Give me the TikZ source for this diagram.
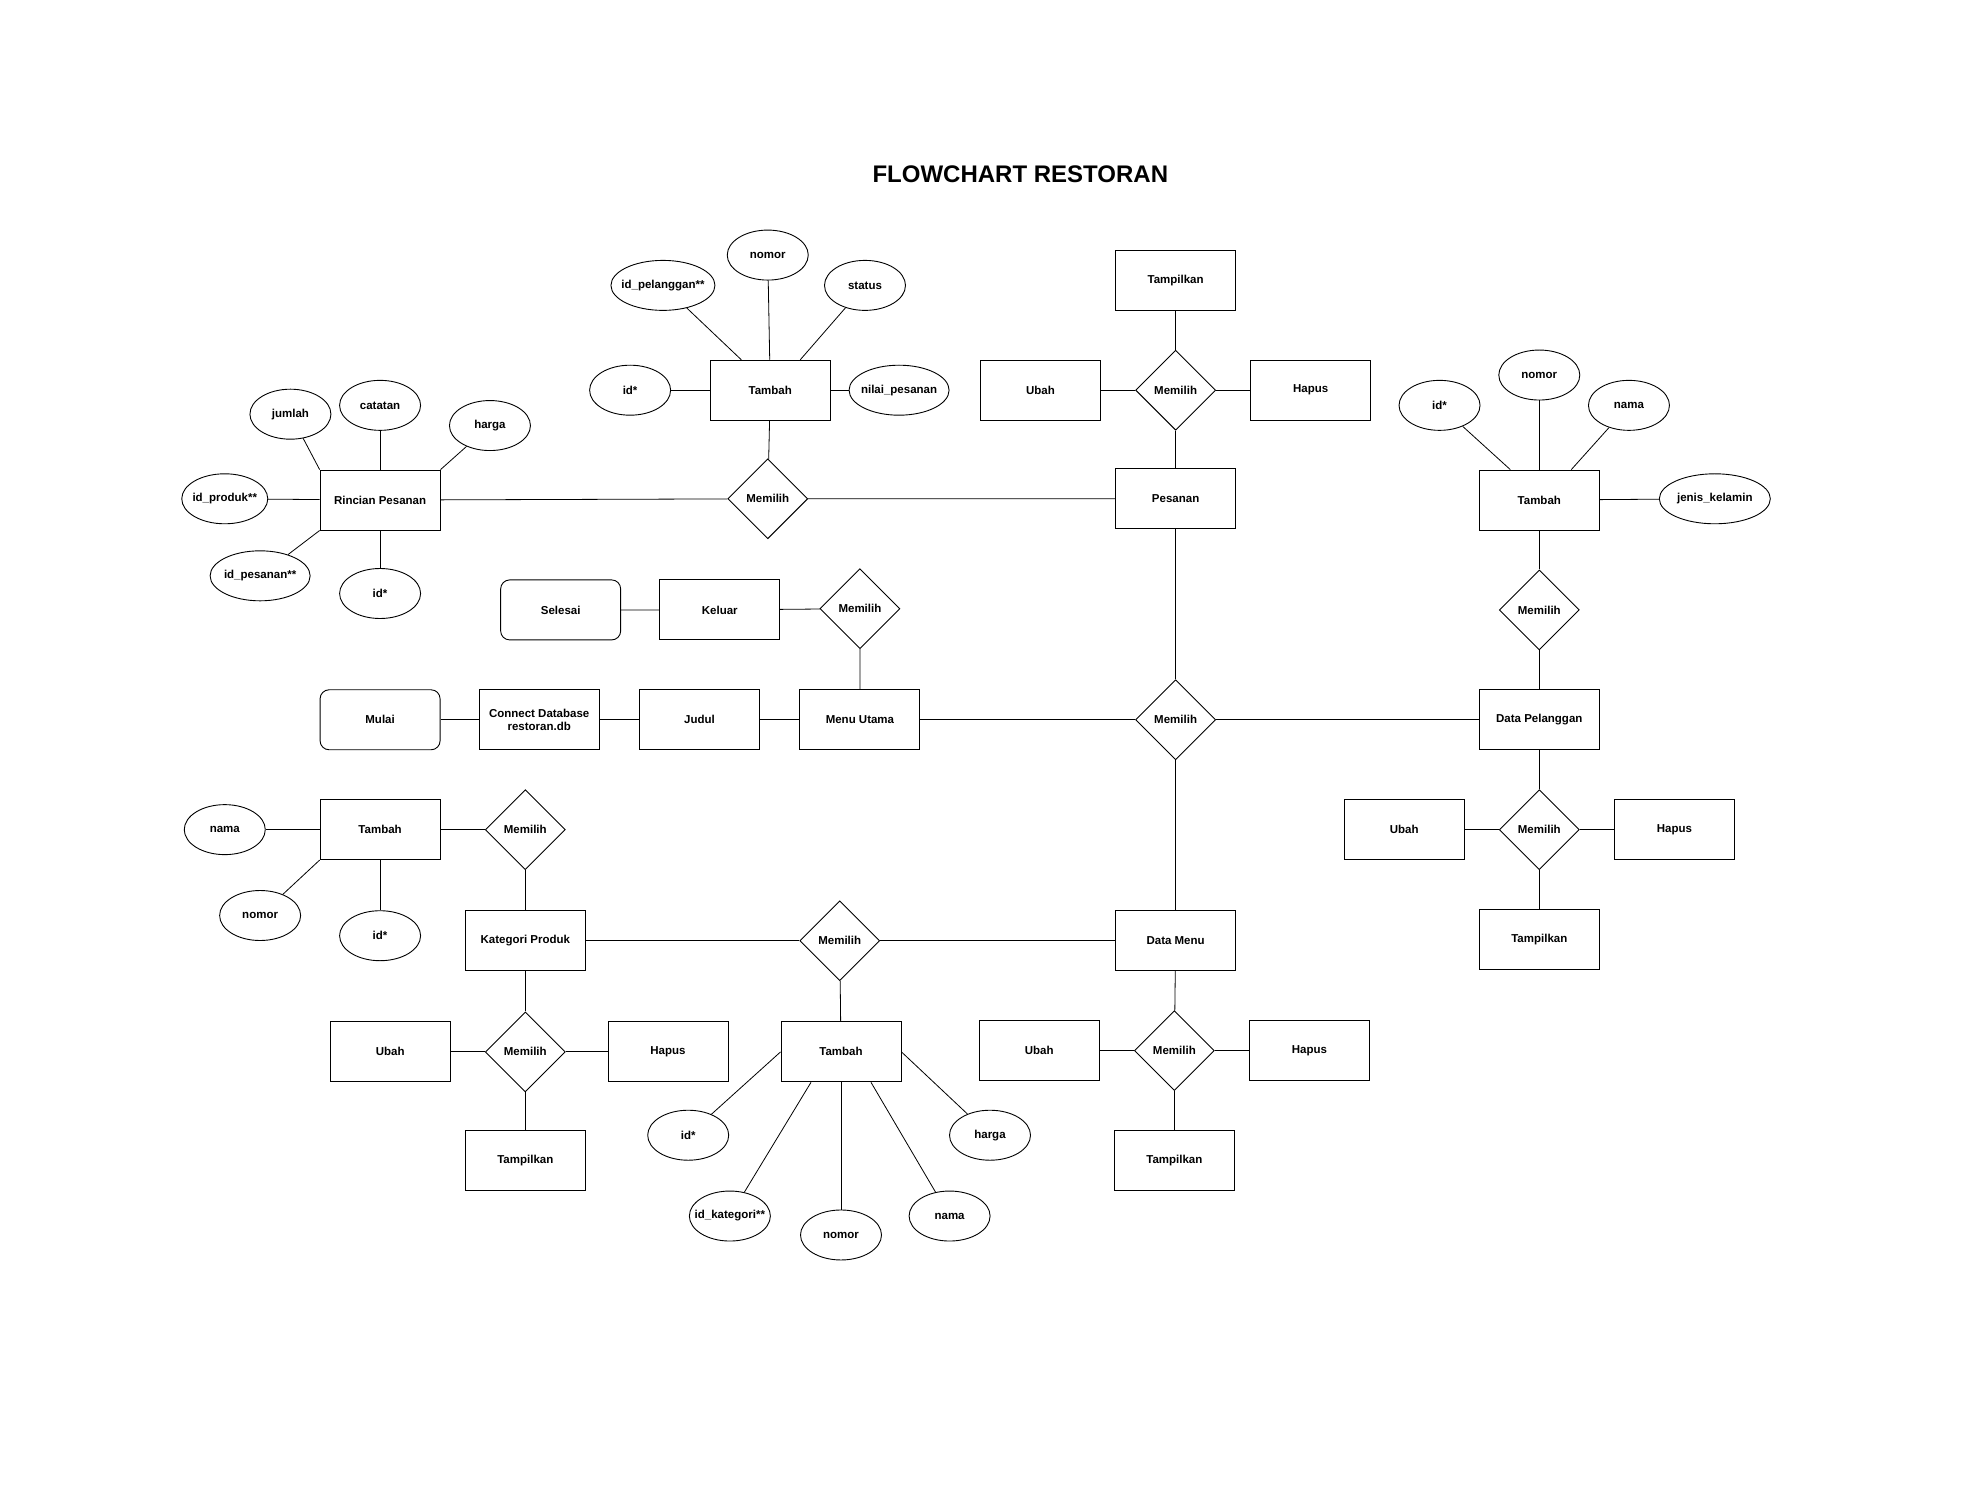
\documentclass[tikz,border=0pt]{standalone}
\usepackage{fontspec}
\setmainfont{Liberation Sans}
\usetikzlibrary{shapes.geometric}
\newcommand{\hurufdiagram}{\fontsize{11.5}{13.5}\selectfont\bfseries}

\begin{document}
\begin{tikzpicture}[x=1.2628pt,y=-1.2628pt,
  kotak/.style={draw=black,line width=0.9pt,minimum width=120pt,minimum height=60pt,
    inner sep=2pt,align=center,font=\hurufdiagram},
  ujung/.style={kotak,rounded corners=9pt},
  atribut/.style={draw=black,ellipse,line width=0.9pt,minimum width=81pt,minimum height=50pt,
    inner xsep=-20pt,inner ysep=0pt,font=\hurufdiagram},
  pilihan/.style={draw=black,diamond,line width=0.9pt,minimum width=80pt,minimum height=80pt,
    inner sep=0pt,font=\hurufdiagram},
  garis/.style={draw=black,line width=0.8pt}]
  \useasboundingbox (0,0) rectangle (1568,1196);
  \node[font=\fontsize{24}{28}\selectfont\bfseries] (judulgambar) at (808,138) {FLOWCHART RESTORAN};

  % Alur utama: mulai sampai menu utama, lalu keluar ke selesai.
  \node[ujung] (mulai) at (301,570) {Mulai};
  \node[kotak] (koneksi) at (427,570) {Connect Database\\restoran.db};
  \node[kotak] (judul) at (554,570) {Judul};
  \node[kotak] (menuutama) at (681,570) {Menu Utama};
  \node[pilihan] (pilihkeluar) at (681,482) {Memilih};
  \node[kotak] (keluar) at (570,483) {Keluar};
  \node[ujung] (selesai) at (444,483) {Selesai};
  \draw[garis] (mulai) -- (koneksi) -- (judul) -- (menuutama);
  \draw[garis] (menuutama) -- (pilihkeluar) -- (keluar) -- (selesai);

  % Pilihan menu di tengah.
  \node[pilihan] (pilihutama) at (931,570) {Memilih};
  \node[kotak] (pesanan) at (931,395) {Pesanan};
  \node[kotak] (datapelanggan) at (1219,570) {Data Pelanggan};
  \node[kotak] (datamenu) at (931,745) {Data Menu};
  \draw[garis] (menuutama) -- (pilihutama) -- (datapelanggan);
  \draw[garis] (pesanan) -- (pilihutama) -- (datamenu);

  % Empat kelompok Ubah / Hapus / Tampilkan di sekitar belah ketupat.
  \foreach \grup/\x/\y/\xh/\dy in {Pes/931/309/107/-87,Pl/1219/657/107/87,
      M/930/832/107/87,K/416/833/113/86}{
    \node[pilihan] (pilih\grup) at (\x,\y) {Memilih};
    \node[kotak] (ubah\grup) at (\x-107,\y) {Ubah};
    \node[kotak] (hapus\grup) at (\x+\xh,\y) {Hapus};
    \node[kotak] (tampil\grup) at (\x,\y+\dy) {Tampilkan};
    \draw[garis] (ubah\grup) -- (pilih\grup) -- (hapus\grup);
    \draw[garis] (pilih\grup) -- (tampil\grup);
  }
  \draw[garis] (pilihPes) -- (pesanan);
  \draw[garis] (datapelanggan) -- (pilihPl);
  \draw[garis] (datamenu) -- (pilihM);

  % Pesanan: tambah pesanan dan rincian pesanan.
  \node[pilihan] (pilihpesanan) at (608,395) {Memilih};
  \node[kotak] (tambahpesanan) at (610,309) {Tambah};
  \node[kotak] (rincian) at (301,396) {Rincian Pesanan};
  \draw[garis] (rincian) -- (pilihpesanan) -- (pesanan);
  \draw[garis] (tambahpesanan) -- (pilihpesanan);
  \node[atribut] (nomorpesanan) at (608,202) {nomor};
  \node[atribut,minimum width=104pt] (idpelanggan) at (525,226) {id\_pelanggan**};
  \node[atribut] (statuspesanan) at (685,226) {status};
  \node[atribut] (idpesanan) at (499,309) {id*};
  \node[atribut,minimum width=100pt] (nilaipesanan) at (712,309) {nilai\_pesanan};
  \draw[garis] (tambahpesanan) -- (nomorpesanan);
  \draw[garis] ([xshift=-29pt]tambahpesanan.north) -- (idpelanggan);
  \draw[garis] ([xshift=30pt]tambahpesanan.north) -- (statuspesanan);
  \draw[garis] (idpesanan) -- (tambahpesanan) -- (nilaipesanan);
  \node[atribut] (jumlah) at (230,328) {jumlah};
  \node[atribut] (catatan) at (301,321) {catatan};
  \node[atribut] (hargarincian) at (388,337) {harga};
  \node[atribut,minimum width=86pt] (idproduk) at (178,395) {id\_produk**};
  \node[atribut,minimum width=100pt] (idpesananrincian) at (206,456) {id\_pesanan**};
  \node[atribut] (idrincian) at (301,470) {id*};
  \draw[garis] (rincian.north west) -- (jumlah);
  \draw[garis] (rincian) -- (catatan);
  \draw[garis] (rincian.north east) -- (hargarincian);
  \draw[garis] (idproduk) -- (rincian);
  \draw[garis] (rincian.south west) -- (idpesananrincian);
  \draw[garis] (rincian) -- (idrincian);

  % Pelanggan: tambah pelanggan.
  \node[pilihan] (pilihtambahpl) at (1219,483) {Memilih};
  \node[kotak] (tambahpl) at (1219,396) {Tambah};
  \draw[garis] (tambahpl) -- (pilihtambahpl) -- (datapelanggan);
  \node[atribut] (idpl) at (1140,321) {id*};
  \node[atribut] (nomorpl) at (1219,297) {nomor};
  \node[atribut] (namapl) at (1290,321) {nama};
  \node[atribut,minimum width=111pt] (jeniskelamin) at (1358,395) {jenis\_kelamin};
  \draw[garis] ([xshift=-29pt]tambahpl.north) -- (idpl);
  \draw[garis] (tambahpl) -- (nomorpl);
  \draw[garis] ([xshift=32pt]tambahpl.north) -- (namapl);
  \draw[garis] (tambahpl) -- (jeniskelamin);

  % Menu dan kategori produk.
  \node[pilihan] (pilihmenu) at (665,745) {Memilih};
  \node[kotak] (kategori) at (416,745) {Kategori Produk};
  \node[kotak] (tambahmenu) at (666,833) {Tambah};
  \draw[garis] (kategori) -- (pilihmenu) -- (datamenu);
  \draw[garis] (pilihmenu) -- (tambahmenu);
  \draw[garis] (kategori) -- (pilihK);
  \node[atribut] (idmenu) at (545,899) {id*};
  \node[atribut] (idkategori) at (578,963) {id\_kategori**};
  \node[atribut] (nomormenu) at (666,978) {nomor};
  \node[atribut] (namamenu) at (752,963) {nama};
  \node[atribut] (hargamenu) at (784,899) {harga};
  \draw[garis] (tambahmenu.west) -- (idmenu);
  \draw[garis] ([xshift=-30pt]tambahmenu.south) -- (idkategori);
  \draw[garis] (tambahmenu) -- (nomormenu);
  \draw[garis] ([xshift=30pt]tambahmenu.south) -- (namamenu);
  \draw[garis] (tambahmenu.east) -- (hargamenu);

  \node[pilihan] (pilihtambahk) at (416,657) {Memilih};
  \node[kotak] (tambahk) at (301,657) {Tambah};
  \draw[garis] (tambahk) -- (pilihtambahk) -- (kategori);
  \node[atribut] (namak) at (178,657) {nama};
  \node[atribut] (nomork) at (206,725) {nomor};
  \node[atribut] (idk) at (301,741) {id*};
  \draw[garis] (namak) -- (tambahk);
  \draw[garis] (tambahk.south west) -- (nomork);
  \draw[garis] (tambahk) -- (idk);
\end{tikzpicture}
\end{document}
